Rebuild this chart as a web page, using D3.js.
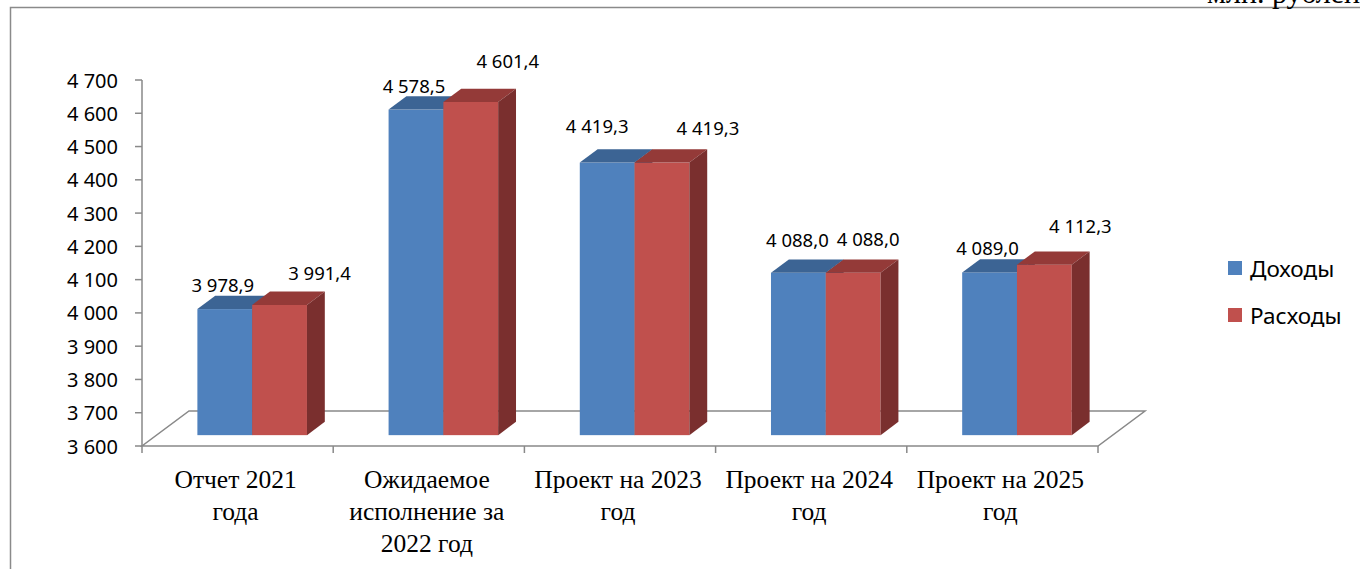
<!DOCTYPE html>
<html>
<head>
<meta charset="utf-8">
<script src="https://cdn.jsdelivr.net/npm/d3@7"></script>
<style>
  html, body { margin: 0; padding: 0; background: #fff; overflow: hidden; }
  svg { display: block; }
</style>
</head>
<body>
<svg id="chart" width="1360" height="569"></svg>
<script>
// ---------- data ----------
const categoryLabels = [
  ["Отчет 2021", "года"],
  ["Ожидаемое", "исполнение за", "2022 год"],
  ["Проект на 2023", "год"],
  ["Проект на 2024", "год"],
  ["Проект на 2025", "год"]
];
const seriesNames = ["Доходы", "Расходы"];
const incomeValues  = [3978.9, 4578.5, 4419.3, 4088.0, 4089.0];
const expenseValues = [3991.4, 4601.4, 4419.3, 4088.0, 4112.3];
const yTickValues = [3600, 3700, 3800, 3900, 4000, 4100, 4200, 4300, 4400, 4500, 4600, 4700];
const unitLabel = "млн. рублей";

// ---------- layout (manual label nudges, as in the source) ----------
const labelNudgeX = { "Доходы": [-2, -2, -10, -1, -2], "Расходы": [40, 37, 46, 15, 36] };
const labelNudgeY = { "Доходы": [-17, -17, -30, -26, -17], "Расходы": [-25, -34, -28, -27, -32] };
const colors = {
  "Доходы":  { front: "#4F81BD", top: "#3C6494", side: "#2F5077" },
  "Расходы": { front: "#C0504D", top: "#943A38", side: "#7A2F2E" }
};

const ruLocale = d3.formatLocale({ decimal: ",", thousands: "\u00a0", grouping: [3], currency: ["", ""] });
const fmtVal = ruLocale.format(",.1f");
const fmtTick = ruLocale.format(",d");

const svg = d3.select("#chart");
const FL = 142, FR = 1098, FB = 446, FT = 80;
const depth = { x: 47, y: -35 };
const barFront = 0.31, barBack = 0.69;
const bfx = depth.x * barFront, bfy = depth.y * barFront;
const bdx = depth.x * (barBack - barFront), bdy = depth.y * (barBack - barFront);

const x0 = d3.scaleBand().domain(d3.range(categoryLabels.length)).range([FL, FR]).paddingInner(0).paddingOuter(0);
const x1 = d3.scaleBand().domain(seriesNames).range([0, x0.bandwidth()]).paddingInner(0).paddingOuter(0.745);
const y = d3.scaleLinear().domain([3600, 4700]).range([FB, FT]);

const gridColor = "#898989";

// frame
svg.append("rect").attr("x", 10.5).attr("y", 7.5).attr("width", 1400).attr("height", 600)
  .attr("fill", "none").attr("stroke", "#8a8a8a").attr("stroke-width", 1.5);

// unit label (partially cut off at top, as in the source)
svg.append("text").attr("x", 1207).attr("y", 2.5)
  .attr("font-family", "'Liberation Serif', 'Times New Roman', serif").attr("font-size", 30)
  .attr("fill", "#000").text(unitLabel);

// floor
const floorPts = [[FL, FB], [FR, FB], [FR + depth.x, FB + depth.y], [FL + depth.x, FB + depth.y]];
svg.append("polygon").attr("points", floorPts.map(p => p.join(",")).join(" "))
  .attr("fill", "none").attr("stroke", gridColor).attr("stroke-width", 1.5);

// y axis
const yAxisG = svg.append("g");
yAxisG.append("line").attr("x1", FL).attr("x2", FL).attr("y1", y(4700)).attr("y2", y(3600))
  .attr("stroke", gridColor).attr("stroke-width", 1.5);
yAxisG.selectAll("line.tick").data(yTickValues).join("line").attr("class", "tick")
  .attr("x1", FL - 7).attr("x2", FL).attr("y1", d => y(d)).attr("y2", d => y(d))
  .attr("stroke", gridColor).attr("stroke-width", 1.5);
yAxisG.selectAll("text").data(yTickValues).join("text")
  .attr("x", 118).attr("y", d => y(d) + 7.5)
  .attr("text-anchor", "end")
  .attr("font-family", "'Noto Sans', 'Open Sans', sans-serif").attr("font-size", 20)
  .attr("fill", "#000").text(d => fmtTick(d));

// x axis category ticks
const xTickPos = d3.range(categoryLabels.length + 1).map(i => i < categoryLabels.length ? x0(i) : x0(i - 1) + x0.bandwidth());
svg.selectAll("line.xtick").data(xTickPos).join("line").attr("class", "xtick")
  .attr("x1", d => d).attr("x2", d => d).attr("y1", FB).attr("y2", FB + 7)
  .attr("stroke", gridColor).attr("stroke-width", 1.5);

// category labels
const catG = svg.append("g");
categoryLabels.forEach((lines, i) => {
  const t = catG.append("text")
    .attr("x", x0(i) + x0.bandwidth() / 2).attr("y", 488)
    .attr("text-anchor", "middle")
    .attr("font-family", "'Liberation Serif', 'Times New Roman', serif").attr("font-size", 25.5)
    .attr("fill", "#000");
  lines.forEach((ln, k) => {
    t.append("tspan").attr("x", x0(i) + x0.bandwidth() / 2 - 2).attr("y", 488 + k * 32).text(ln);
  });
});

// bars
const valuesBySeries = { "Доходы": incomeValues, "Расходы": expenseValues };
const barsG = svg.append("g");
categoryLabels.forEach((_, i) => {
  seriesNames.forEach(s => {
    const v = valuesBySeries[s][i];
    const xl = x0(i) + x1(s) + bfx;
    const xr = xl + x1.bandwidth();
    const yt = y(v) + bfy;
    const yb = y(3600) + bfy;
    const c = colors[s];
    const g = barsG.append("g");
    g.append("rect").attr("x", xl).attr("y", yt).attr("width", xr - xl).attr("height", yb - yt).attr("fill", c.front);
    g.append("polygon").attr("points", [[xl, yt], [xr, yt], [xr + bdx, yt + bdy], [xl + bdx, yt + bdy]].map(p => p.join(",")).join(" "))
      .attr("fill", c.top);
    g.append("polygon").attr("points", [[xr, yt], [xr + bdx, yt + bdy], [xr + bdx, yb + bdy], [xr, yb]].map(p => p.join(",")).join(" "))
      .attr("fill", c.side);
  });
});

// data labels
const labelsG = svg.append("g");
categoryLabels.forEach((_, i) => {
  seriesNames.forEach(s => {
    const v = valuesBySeries[s][i];
    const cx = x0(i) + x1(s) + bfx + x1.bandwidth() / 2;
    const yt = y(v) + bfy;
    labelsG.append("text")
      .attr("x", cx + labelNudgeX[s][i]).attr("y", yt + labelNudgeY[s][i])
      .attr("text-anchor", "middle")
      .attr("font-family", "'Noto Sans', 'Open Sans', sans-serif").attr("font-size", 18.5)
      .attr("fill", "#000").text(fmtVal(v));
  });
});

// legend
const legendG = svg.append("g");
seriesNames.forEach((s, k) => {
  const yy = 261 + k * 47;
  legendG.append("rect").attr("x", 1228).attr("y", yy).attr("width", 14).attr("height", 14).attr("fill", colors[s].front);
  legendG.append("text").attr("x", 1250).attr("y", yy + 16)
    .attr("font-family", "'Noto Sans', 'Open Sans', sans-serif").attr("font-size", 22.5)
    .attr("fill", "#000").text(s);
});
</script>
</body>
</html>
